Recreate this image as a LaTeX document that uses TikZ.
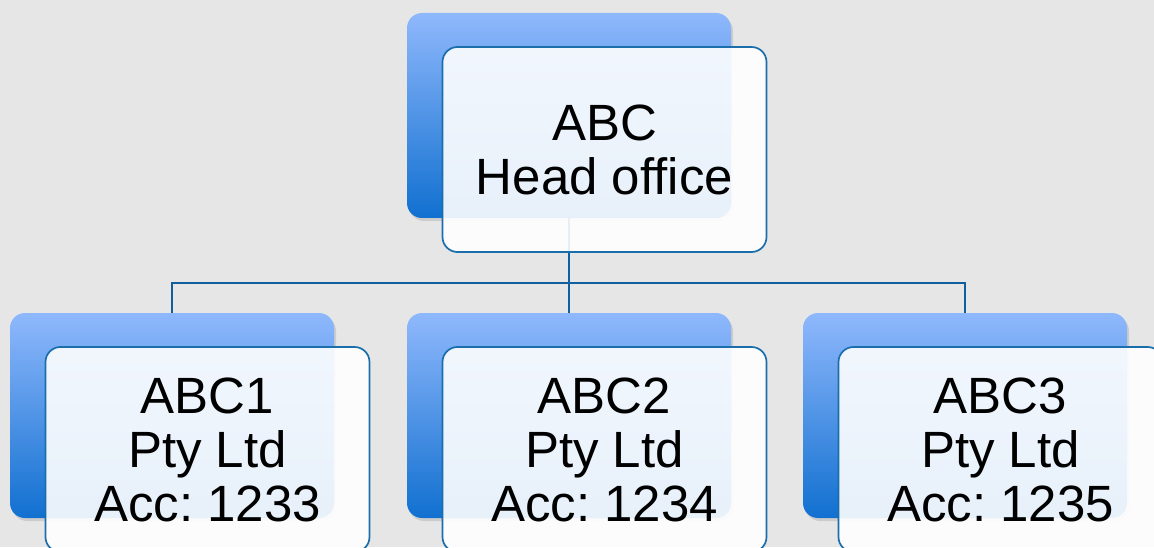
\documentclass[tikz,border=0pt]{standalone}
\usepackage{fontspec}
\setmainfont{Liberation Sans}
\usetikzlibrary{positioning,shadows}
\definecolor{bggray}{RGB}{230,230,230}
\definecolor{backtop}{RGB}{143,184,252}
\definecolor{backbottom}{RGB}{17,112,208}
\definecolor{frameblue}{RGB}{26,110,172}
\definecolor{linkblue}{RGB}{16,96,160}
\frenchspacing
\begin{document}
\begin{tikzpicture}[
    x=1pt, y=1pt,
    backbox/.style={rectangle, rounded corners=15pt, minimum width=324pt, minimum height=205pt,
        top color=backtop, bottom color=backbottom, draw=none,
        drop shadow={shadow xshift=2pt, shadow yshift=-3pt, opacity=0.25}},
    frontbox/.style={rectangle, rounded corners=15pt, minimum width=324pt, minimum height=205pt,
        draw=frameblue, line width=1.7pt, fill=white, fill opacity=0.9, text opacity=1,
        align=center, font=\fontsize{51}{54}\selectfont},
    link/.style={draw=linkblue, line width=2pt}
]
    \useasboundingbox (0,0) rectangle (1154,547);
    \clip (0,0) rectangle (1154,547);
    \fill [bggray] (0,0) rectangle (1154,547);

    % Back (gradient) boxes
    \node [backbox] (headback) at (569,431.5) {};
    \node [backbox] (sub1back) at (172,131.5) {};
    \node [backbox] (sub2back) at (569,131.5) {};
    \node [backbox] (sub3back) at (965,131.5) {};

    % Connectors
    \coordinate (bus) at (569,264);
    \draw [link] (headback.south) -- (bus);
    \draw [link] (bus) -| (sub1back.north);
    \draw [link] (bus) -- (sub2back.north);
    \draw [link] (bus) -| (sub3back.north);

    % Front boxes with the labels
    \node [frontbox, xshift=35.5pt, yshift=-34pt] (head) at (headback) {ABC\\Head office};
    \node [frontbox, xshift=35.5pt, yshift=-34pt] (sub1) at (sub1back) {ABC1\\Pty Ltd\\Acc: 1233};
    \node [frontbox, xshift=35.5pt, yshift=-34pt] (sub2) at (sub2back) {ABC2\\Pty Ltd\\Acc: 1234};
    \node [frontbox, xshift=35.5pt, yshift=-34pt] (sub3) at (sub3back) {ABC3\\Pty Ltd\\Acc: 1235};
\end{tikzpicture}
\end{document}
